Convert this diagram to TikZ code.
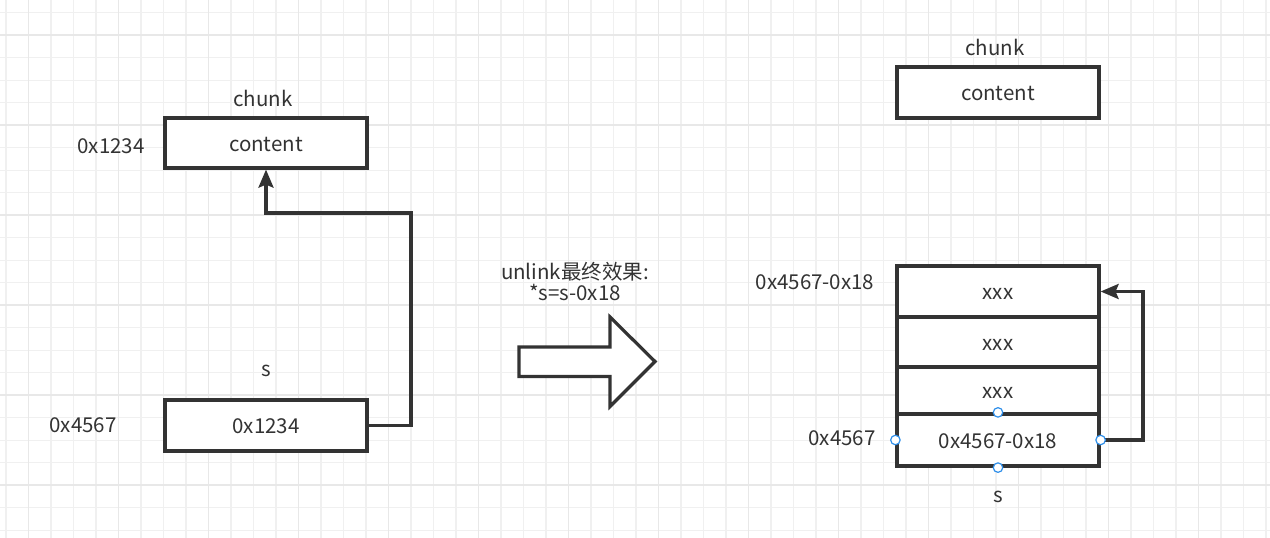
\documentclass[tikz,border=0pt]{standalone}
\usepackage{fontspec}
\setmainfont{Noto Sans CJK SC}
\usetikzlibrary{arrows.meta}
\definecolor{ink}{HTML}{333333}
\definecolor{gridminor}{HTML}{F0F0F0}
\definecolor{gridmajor}{HTML}{E8E8E8}
\definecolor{handle}{HTML}{2F8FEA}
\tikzset{
  box/.style={draw=ink, line width=3.2pt, fill=white, minimum width=202pt, inner sep=0pt, text height=16pt, text depth=0pt, font=\fontsize{20.5}{23}\selectfont, text=ink},
  lbl/.style={font=\fontsize{20.5}{23}\selectfont, text=ink, inner sep=0pt},
  conn/.style={draw=ink, line width=3.2pt, -{Stealth[length=18pt,width=15pt,inset=3pt]}},
  hnd/.style={circle, draw=handle, fill=white, line width=1.2pt, minimum size=9.5pt, inner sep=0pt},
}
\begin{document}
\begin{tikzpicture}[x=1pt,y=-1pt]
\useasboundingbox (0,0) rectangle (1270,538);
\fill[white] (0,0) rectangle (1270,538);
% grid
\foreach \i in {0,...,56} {
  \pgfmathsetmacro{\gx}{6+22.5*\i}
  \draw[gridminor, line width=1.2pt] (\gx,0) -- (\gx,538);
}
\foreach \i in {0,...,23} {
  \pgfmathsetmacro{\gy}{12.7+22.5*\i}
  \draw[gridminor, line width=1.2pt] (0,\gy) -- (1270,\gy);
}
\foreach \i in {0,...,14} {
  \pgfmathsetmacro{\gx}{28.5+90*\i}
  \draw[gridmajor, line width=1.2pt] (\gx,0) -- (\gx,538);
}
\foreach \i in {0,...,5} {
  \pgfmathsetmacro{\gy}{35+90*\i}
  \draw[gridmajor, line width=1.2pt] (0,\gy) -- (1270,\gy);
}

% left side
\node[box, minimum height=50pt] (lchunk) at (266,143) {content};
\node[lbl] (lchunklbl) at (263,98) {chunk};
\node[lbl] (laddr1) at (111,146) {0x1234};
\node[box, minimum height=51pt] (ls) at (266,425.5) {0x1234};
\node[lbl] (lslbl) at (266,371) {s};
\node[lbl] (laddr2) at (83,425) {0x4567};
\draw[conn] (ls.east) -| (411,213) -| (lchunk.south);

% middle
\node[lbl, align=center] (note) at (575,282) {unlink最终效果:\\[-2pt]*s=s-0x18};
\draw[ink, line width=3.2pt, fill=white, line join=miter]
  (519,347) -- (610,347) -- (610,317) -- (655,361.5) -- (610,406.5) -- (610,376.5) -- (519,376.5) -- cycle;
\node[inner sep=0pt] (bigarrow) at (587,361.5) {};

% right side
\node[box, minimum height=51pt] (rchunk) at (998,92.5) {content};
\node[lbl] (rchunklbl) at (995,47) {chunk};
\node[box, minimum height=51pt] (r1) at (998,291.5) {xxx};
\node[box, minimum height=50pt] (r2) at (998,342) {xxx};
\node[box, minimum height=47pt] (r3) at (998,390.5) {xxx};
\node[box, minimum height=52pt] (r4) at (998,440) {0x4567-0x18};
\node[lbl] (raddr1) at (815,282) {0x4567-0x18};
\node[lbl] (raddr2) at (842,438) {0x4567};
\node[lbl] (rslbl) at (998,497) {s};
\draw[conn] (r4.east) -- (1143,440) |- (r1.east);
\node[hnd] (h1) at (r4.north) {};
\node[hnd] (h2) at (r4.west) {};
\node[hnd] (h3) at (r4.east) {};
\node[hnd] (h4) at (r4.south) {};
\end{tikzpicture}
\end{document}
